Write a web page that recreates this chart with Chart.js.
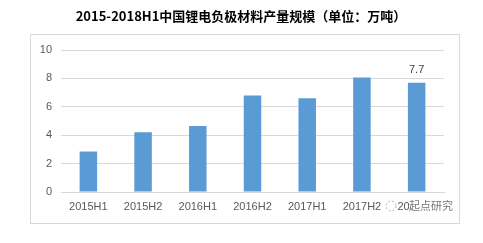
<!DOCTYPE html>
<html>
<head>
<meta charset="utf-8">
<script src="https://cdn.jsdelivr.net/npm/chart.js@4"></script>
<style>
  html, body { margin: 0; padding: 0; background: #fff; }
  #wrap { width: 483px; height: 243px; position: relative; }
</style>
</head>
<body>
<div id="wrap"><canvas id="c" width="483" height="243"></canvas></div>
<script>
const title = "2015-2018H1中国锂电负极材料产量规模（单位：万吨）";
const categories = ["2015H1", "2015H2", "2016H1", "2016H2", "2017H1", "2017H2", "2018H1"];
const output = [2.85, 4.2, 4.65, 6.8, 6.6, 8.07, 7.7];
const yTicks = [0, 2, 4, 6, 8, 10];
const labelled = ["2018H1"]; // only this bar carries a value label

// frame, title, value label and watermark
const decor = {
  id: "decor",
  beforeDraw(chart) {
    const ctx = chart.ctx;
    ctx.save();
    ctx.strokeStyle = "#d9d9d9";
    ctx.lineWidth = 1;
    ctx.strokeRect(30.5, 34.5, 429, 189);
    ctx.fillStyle = "#000";
    ctx.font = "bold 13px 'Noto Sans CJK SC'";
    ctx.textAlign = "center";
    ctx.textBaseline = "middle";
    ctx.fillText(title, 241, 16);
    ctx.restore();
  },
  afterDatasetsDraw(chart) {
    const ctx = chart.ctx;
    const meta = chart.getDatasetMeta(0);
    ctx.save();
    ctx.fillStyle = "#404040";
    ctx.font = "11px 'Liberation Sans'";
    ctx.textAlign = "center";
    ctx.textBaseline = "bottom";
    meta.data.forEach((bar, i) => {
      if (labelled.includes(categories[i])) {
        ctx.fillText(output[i].toString(), bar.x, bar.y - 7);
      }
    });
    ctx.restore();
  },
  afterDraw(chart) {
    const ctx = chart.ctx;
    ctx.save();
    ctx.fillStyle = "#fff";
    ctx.fillRect(409, 198, 42, 18);
    ctx.strokeStyle = "#b0b0b0";
    ctx.setLineDash([2, 2]);
    ctx.beginPath();
    ctx.arc(391, 206, 5, 0, Math.PI * 2);
    ctx.stroke();
    ctx.fillStyle = "#777";
    ctx.font = "11px 'Noto Sans CJK SC'";
    ctx.textAlign = "left";
    ctx.textBaseline = "middle";
    ctx.fillText("起点研究", 409, 206);
    ctx.restore();
  }
};

new Chart(document.getElementById("c"), {
  type: "bar",
  data: {
    labels: categories,
    datasets: [{
      data: output,
      backgroundColor: "#5b9bd5",
      categoryPercentage: 1,
      barPercentage: 0.32,
    }],
  },
  options: {
    responsive: false,
    animation: false,
    layout: { padding: { left: 30, right: 39, top: 50, bottom: 19 } },
    plugins: { legend: { display: false }, tooltip: { enabled: false } },
    scales: {
      x: {
        grid: { display: false, drawTicks: false },
        border: { color: "#d9d9d9" },
        ticks: { color: "#595959", font: { family: "Liberation Sans", size: 11 }, padding: 8, maxRotation: 0 },
        afterFit(scale) { scale.height = 32; },
      },
      y: {
        min: 0,
        max: 10,
        afterBuildTicks(scale) { scale.ticks = yTicks.map(v => ({ value: v })); },
        grid: { color: "#d9d9d9", drawTicks: false },
        border: { display: false },
        ticks: { color: "#595959", font: { family: "Liberation Sans", size: 11 }, padding: 9 },
        afterFit(scale) { scale.width = 31; },
      },
    },
  },
  plugins: [decor],
});
</script>
</body>
</html>
